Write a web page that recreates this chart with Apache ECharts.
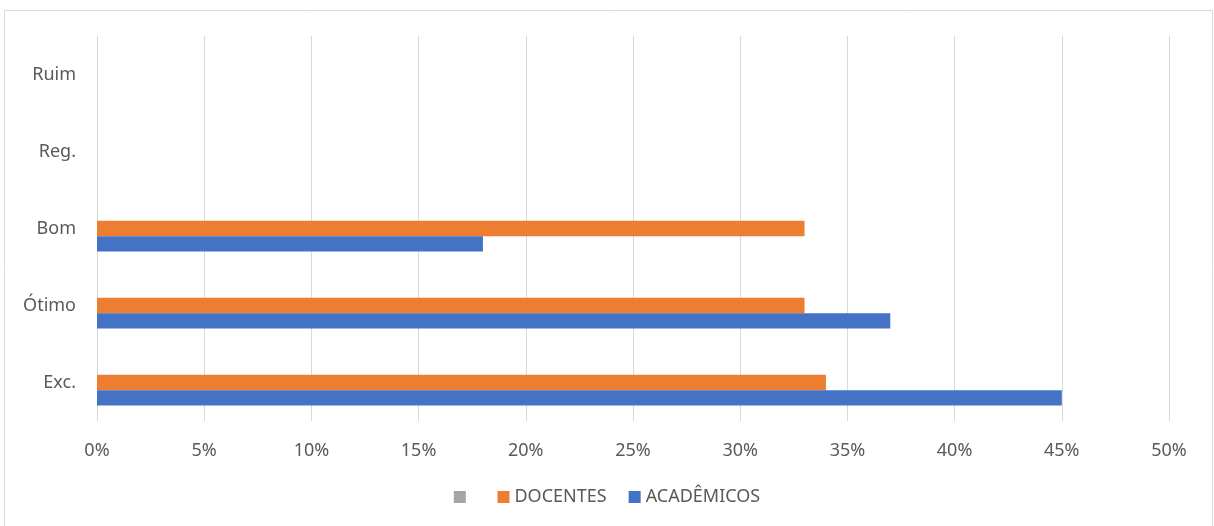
<!DOCTYPE html>
<html lang="pt">
<head>
    <meta charset="UTF-8">
    <title>Avaliação</title>
    <style>
        html, body { margin: 0; padding: 0; background: #fff; }
        #main { width: 1214px; height: 526px; }
    </style>
</head>
<body>
<div id="main"></div>
<script src="https://cdn.jsdelivr.net/npm/echarts@6/dist/echarts.min.js"></script>
<script>
    // categorias de baixo para cima
    var categorias = ['Exc.', 'Ótimo', 'Bom', 'Reg.', 'Ruim'];
    var academicos = [45, 37, 18, 0, 0];
    var docentes = [34, 33, 33, 0, 0];
    var semNome = [0, 0, 0, 0, 0];
    var ticks = [0, 5, 10, 15, 20, 25, 30, 35, 40, 45, 50];

    var cinza = '#595959';
    var fonte = '"Noto Sans", "Open Sans", sans-serif';

    var option = {
        animation: false,
        textStyle: {fontFamily: fonte},
        graphic: [{
            type: 'rect',
            shape: {x: 4.5, y: 10.5, width: 1208, height: 530},
            style: {fill: 'none', stroke: '#D9D9D9', lineWidth: 1},
            silent: true
        }],
        grid: {left: 97, right: 45, top: 36, bottom: 105},
        legend: {
            bottom: 15,
            left: 'center',
            itemWidth: 12,
            itemHeight: 12,
            itemGap: 22,
            icon: 'rect',
            textStyle: {color: cinza, fontSize: 18, fontFamily: fonte},
            data: [' ', 'DOCENTES', 'ACADÊMICOS']
        },
        xAxis: {
            type: 'value',
            min: ticks[0],
            max: ticks[ticks.length - 1],
            interval: 5,
            axisLine: {show: false},
            axisTick: {show: false},
            axisLabel: {
                color: cinza, fontSize: 18, margin: 21,
                formatter: function (v) { return v + '%'; }
            },
            splitLine: {lineStyle: {color: '#D9D9D9', width: 1}}
        },
        yAxis: {
            type: 'category',
            data: categorias,
            axisLine: {show: false},
            axisTick: {show: false},
            axisLabel: {color: cinza, fontSize: 18, margin: 21}
        },
        // ordem invertida: a primeira série fica em cima no ECharts
        series: [
            {name: ' ', type: 'bar', data: semNome, itemStyle: {color: '#A5A5A5'},
                barGap: '0%', barCategoryGap: '40%'},
            {name: 'DOCENTES', type: 'bar', data: docentes, itemStyle: {color: '#ED7D31'}},
            {name: 'ACADÊMICOS', type: 'bar', data: academicos, itemStyle: {color: '#4472C4'}}
        ]
    };
    var myChart = echarts.init(document.getElementById('main'));
    myChart.setOption(option);
</script>
</body>
</html>
